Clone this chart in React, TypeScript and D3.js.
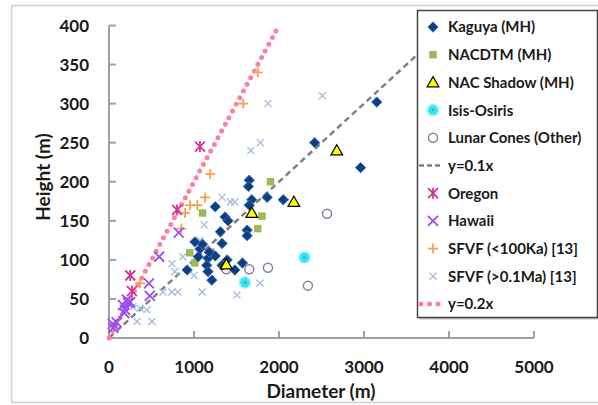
import React from 'react';
import * as d3 from 'd3';

// series values: [diameter (m), height (m)]
const kaguya: [number, number][] = [
  [3150, 302], [2420, 250], [2960, 218], [2050, 177], [1860, 180], [1650, 202],
  [1640, 194], [1680, 177], [1650, 170], [1250, 168], [1365, 155], [1400, 150],
  [1625, 138], [1625, 131], [1310, 136], [1330, 121], [1010, 123], [1070, 114],
  [1050, 104], [1165, 102], [1250, 105], [1150, 93], [1165, 85], [1210, 74],
  [920, 87], [1330, 93], [1480, 87], [1570, 96], [1390, 100], [1100, 120], [1180, 110],
];
const nacdtm: [number, number][] = [
  [1900, 200], [1100, 160], [1800, 156], [1750, 140], [950, 109], [1010, 96], [1200, 110],
];
const nacShadow: [number, number][] = [
  [2680, 240], [2175, 174], [1680, 160], [1380, 94],
];
const isisOsiris: [number, number][] = [[2300, 103], [1600, 71]];
const lunarCones: [number, number][] = [
  [2565, 159], [1870, 90], [2340, 67], [1650, 88], [1380, 88],
];
const oregon: [number, number][] = [[1070, 245], [800, 164], [250, 80], [270, 60]];
const hawaii: [number, number][] = [
  [820, 135], [590, 104], [470, 70], [480, 54], [210, 49], [225, 45], [165, 42],
  [190, 36], [250, 46], [180, 32], [50, 13], [45, 18], [90, 20],
];
const sfvfYoung: [number, number][] = [
  [1750, 340], [1580, 300], [1190, 210], [1130, 180], [1040, 170], [955, 170],
  [895, 160], [850, 140], [365, 70],
];
const sfvfOld: [number, number][] = [
  [2510, 310], [1870, 300], [1780, 250], [1670, 240], [1330, 180], [1430, 174],
  [1480, 174], [1120, 145], [1070, 125], [870, 104], [740, 95], [775, 85],
  [1000, 80], [635, 59], [740, 59], [810, 59], [1095, 59], [1505, 55], [1775, 70],
  [365, 38], [445, 36], [330, 21], [505, 21], [280, 40], [60, 15],
];

const xTicks = [0, 1000, 2000, 3000, 4000, 5000];
const yTicks = [0, 50, 100, 150, 200, 250, 300, 350, 400];
const legendLabels = [
  'Kaguya (MH)', 'NACDTM (MH)', 'NAC Shadow (MH)', 'Isis-Osiris', 'Lunar Cones (Other)',
  'y=0.1x', 'Oregon', 'Hawaii', 'SFVF (<100Ka) [13]', 'SFVF (>0.1Ma) [13]', 'y=0.2x',
];
const legendKinds = [
  'kaguya', 'nacdtm', 'shadow', 'isis', 'lunar', 'line1', 'oregon', 'hawaii', 'sfvfYoung', 'sfvfOld', 'line2',
];

const font = 'Lato, Calibri, "DejaVu Sans", sans-serif';

const x = d3.scaleLinear().domain([0, 5000]).range([109, 534]);
const y = d3.scaleLinear().domain([0, 400]).range([338, 25.5]);

const diamond = d3.symbol().type(d3.symbolDiamond2).size(68)()!;
const square = d3.symbol().type(d3.symbolSquare).size(56)()!;
const triangle = d3.symbol().type(d3.symbolTriangle).size(60)()!;

function marker(kind: string, cx: number, cy: number, key: string | number) {
  const t = `translate(${cx},${cy})`;
  switch (kind) {
    case 'kaguya':
      return <path key={key} d={diamond} transform={t} fill="#0e3f7e" stroke="#3f70b5" strokeWidth={1} />;
    case 'nacdtm':
      return <path key={key} d={square} transform={t} fill="#9bbb59" />;
    case 'shadow':
      return <path key={key} d={triangle} transform={`translate(${cx},${cy + 1})`} fill="#ffff00" stroke="#000" strokeWidth={1.2} />;
    case 'isis':
      return (
        <g key={key} transform={t}>
          <circle r={5.5} fill="#2ee8f5" stroke="#8ff6fb" strokeWidth={1.5} />
          <circle r={1.6} fill="#6f9fb0" />
        </g>
      );
    case 'lunar':
      return <circle key={key} transform={t} r={4.5} fill="#fff" stroke="#8e7f9e" strokeWidth={1.5} />;
    case 'oregon':
      return (
        <g key={key} transform={t} stroke="#d4339c" strokeWidth={1.8}>
          <line x1={-5} y1={-5} x2={5} y2={5} />
          <line x1={-5} y1={5} x2={5} y2={-5} />
          <line x1={0} y1={-5.5} x2={0} y2={5.5} />
        </g>
      );
    case 'hawaii':
      return (
        <g key={key} transform={t} stroke="#9b4ef0" strokeWidth={1.8}>
          <line x1={-5} y1={-5} x2={5} y2={5} />
          <line x1={-5} y1={5} x2={5} y2={-5} />
        </g>
      );
    case 'sfvfYoung':
      return (
        <g key={key} transform={t} stroke="#f9a050" strokeWidth={1.8}>
          <line x1={-5} y1={0} x2={5} y2={0} />
          <line x1={0} y1={-5} x2={0} y2={5} />
        </g>
      );
    case 'sfvfOld':
      return (
        <g key={key} transform={t} stroke="#a9bfe0" strokeWidth={1.4}>
          <line x1={-3.5} y1={-3.5} x2={3.5} y2={3.5} />
          <line x1={-3.5} y1={3.5} x2={3.5} y2={-3.5} />
        </g>
      );
    case 'line1':
      return <line key={key} x1={cx - 14} x2={cx + 10} y1={cy} y2={cy} stroke="#808080" strokeWidth={2.5} strokeDasharray="5 3" />;
    case 'line2':
      return <line key={key} x1={cx - 12} x2={cx + 10} y1={cy} y2={cy} stroke="#ff7fa3" strokeWidth={5} strokeLinecap="round" strokeDasharray="0 8.5" />;
  }
  return null;
}

export default function App() {
  const series: [string, [number, number][]][] = [
    ['sfvfOld', sfvfOld], ['sfvfYoung', sfvfYoung], ['hawaii', hawaii], ['oregon', oregon],
    ['lunar', lunarCones], ['isis', isisOsiris], ['nacdtm', nacdtm], ['kaguya', kaguya], ['shadow', nacShadow],
  ];
  const line01 = d3.line<number>().x((d) => x(d)).y((d) => y(d * 0.1))([0, 4000])!;
  const line02 = d3.line<number>().x((d) => x(d)).y((d) => y(d * 0.2))([0, 1975])!;

  return (
    <svg width={598} height={405} style={{ position: 'absolute', left: 0, top: 0, background: '#fff' }} fontFamily={font} fontWeight="bold">
      <rect x={11.5} y={5.5} width={600} height={397} fill="#fff" stroke="#d0d0d0" strokeWidth={1.5} />

      {/* axes */}
      <g stroke="#a0a0a0" strokeWidth={2} fill="none">
        <line x1={x(0)} x2={x(0)} y1={y(400)} y2={y(0)} />
        <line x1={x(0)} x2={x(5000)} y1={y(0)} y2={y(0)} />
        {yTicks.map((t) => <line key={'yt' + t} x1={x(0)} x2={x(0) + 7} y1={y(t)} y2={y(t)} />)}
        {xTicks.map((t) => <line key={'xt' + t} x1={x(t)} x2={x(t)} y1={y(0)} y2={y(0) - 7} />)}
      </g>
      {yTicks.map((t) => (
        <text key={'yl' + t} x={89} y={y(t)} dy="0.36em" textAnchor="end" fontSize={17} fill="#1a1a1a">{t}</text>
      ))}
      {xTicks.map((t) => (
        <text key={'xl' + t} x={x(t)} y={373} textAnchor="middle" fontSize={17} fill="#1a1a1a">{t}</text>
      ))}
      <text x={321} y={398} textAnchor="middle" fontSize={19} fill="#1a1a1a">Diameter (m)</text>
      <text transform="translate(50,177) rotate(-90)" textAnchor="middle" fontSize={19} fill="#1a1a1a">Height (m)</text>

      {/* trend lines */}
      <path d={line01} stroke="#808080" strokeWidth={2.5} strokeDasharray="6 4" fill="none" />
      <path d={line02} stroke="#ff7fa3" strokeWidth={5} strokeLinecap="round" strokeDasharray="0 7.6" fill="none" />

      {series.map(([kind, pts]) => (
        <g key={kind}>{pts.map((p, i) => marker(kind, x(p[0]), y(p[1]), i))}</g>
      ))}

      {/* legend */}
      <rect x={419.5} y={12.5} width={180} height={307} fill="#9a9a9a" opacity={0.6} />
      <rect x={417.5} y={10.5} width={180} height={307} fill="#fff" stroke="#444" strokeWidth={1.5} />
      {legendLabels.map((label, i) => {
        const cy = 27 + i * 27.7;
        return (
          <g key={label}>
            {marker(legendKinds[i], 433, cy, 'm')}
            <text x={448} y={cy} dy="0.36em" fontSize={15} fill="#1a1a1a">{label}</text>
          </g>
        );
      })}
    </svg>
  );
}
